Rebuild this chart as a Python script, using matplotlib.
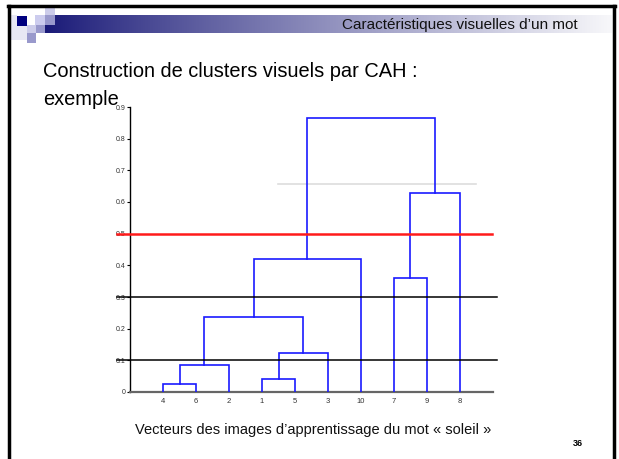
import numpy as np
import matplotlib
matplotlib.use('Agg')
from matplotlib import pyplot as plt
from matplotlib.patches import Rectangle

plt.rcParams['font.family'] = ['Liberation Sans', 'DejaVu Sans']

# leaf order along the x axis
leaf_labels = ['4', '6', '2', '1', '5', '3', '10', '7', '9', '8']
# merges: (left, right, height) -- names are leaves or earlier merges
merges = [
    ('4', '6', 0.026),
    ('m0', '2', 0.085),
    ('1', '5', 0.041),
    ('m2', '3', 0.122),
    ('m1', 'm3', 0.238),
    ('m4', '10', 0.42),
    ('7', '9', 0.359),
    ('m6', '8', 0.63),
    ('m5', 'm7', 0.865),
]
# cut levels
cut_black = [0.1, 0.3]
cut_red = 0.5
cut_grey = 0.656
yticks = [0, 0.1, 0.2, 0.3, 0.4, 0.5, 0.6, 0.7, 0.8, 0.9]

W, H = 619, 459
fig = plt.figure(figsize=(W / 100, H / 100), dpi=100)

# --- slide decoration ---
bg = fig.add_axes([0, 0, 1, 1])
bg.set_xlim(0, W)
bg.set_ylim(H, 0)
bg.axis('off')

# header gradient bar
grad = np.linspace(0, 1, 300)
c0 = np.array([0.10, 0.10, 0.47])
c1 = np.array([0.97, 0.97, 0.98])
g = np.clip(grad ** 0.9, 0, 1)
img = (c0[None, :] * (1 - g[:, None]) + c1[None, :] * g[:, None])[None, :, :]
bg.imshow(img, extent=(45, 612, 33, 15), aspect='auto', zorder=1)

# little squares top-left
squares = [
    (17, 16, 10, 10, '#00007f'),
    (45, 7, 10, 8, '#ccccea'),
    (45, 15, 10, 10, '#9999cc'),
    (35, 15, 10, 10, '#ccccee'),
    (27, 25, 9, 8, '#ccccea'),
    (36, 25, 9, 8, '#9999cc'),
    (27, 33, 9, 10, '#9999cc'),
    (10, 26, 17, 14, '#e8e8f4'),
    (10, 15, 7, 11, '#e8e8f4'),
]
for x, y, w, h, c in squares:
    bg.add_patch(Rectangle((x, y), w, h, facecolor=c, edgecolor='none', zorder=2))

# frame
bg.plot([8, 615], [6, 6], color='black', lw=2.5, zorder=3)
bg.plot([9, 9], [6, H], color='black', lw=2.5, zorder=3)
bg.plot([614, 614], [6, H], color='black', lw=2.5, zorder=3)

bg.text(578, 25, "Caractéristiques visuelles d\u2019un mot", ha='right', va='center',
        fontsize=11, color='#111111', zorder=4)
bg.text(43, 77, "Construction de clusters visuels par CAH :", ha='left', va='baseline',
        fontsize=14.4, color='black', zorder=4)
bg.text(43, 105, "exemple", ha='left', va='baseline', fontsize=14.4, color='black', zorder=4)
bg.text(313, 430, "Vecteurs des images d\u2019apprentissage du mot « soleil »", ha='center',
        va='center', fontsize=10.5, color='#111111', zorder=4)
bg.text(578, 444, "36", ha='center', va='center', fontsize=6.5, fontweight='bold', zorder=4)

# --- dendrogram axes ---
x0, x1, y0, y1 = 130, 493, 392, 107
ax = fig.add_axes([x0 / W, (H - y0) / H, (x1 - x0) / W, (y0 - y1) / H])
ax.patch.set_alpha(0)

pos = {lab: i + 1 for i, lab in enumerate(leaf_labels)}
hgt = {lab: 0.0 for lab in leaf_labels}
for k, (a, b, h) in enumerate(merges):
    xa, xb = pos[a], pos[b]
    ax.plot([xa, xa, xb, xb], [hgt[a], h, h, hgt[b]], color='#1a1aff', lw=1.2,
            solid_joinstyle='miter', zorder=3)
    name = 'm%d' % k
    pos[name] = (xa + xb) / 2
    hgt[name] = h

for yc in cut_black:
    ax.plot([-0.4, 11.12], [yc, yc], color='black', lw=1.1, clip_on=False, zorder=4)
ax.plot([-0.4, 10.97], [cut_red, cut_red], color='#ff1a1a', lw=1.8, clip_on=False, zorder=5)
ax.plot([4.47, 10.48], [cut_grey, cut_grey], color='#dddddd', lw=1.2, clip_on=False, zorder=2)

ax.set_xlim(0, 11)
ax.set_ylim(0, 0.9)
ax.set_xticks(range(1, 11))
ax.set_xticklabels(leaf_labels)
ax.set_yticks(yticks)
ax.set_yticklabels(['0'] + ['%.1f' % v for v in yticks[1:]])
ax.tick_params(axis='x', length=0, labelsize=5.5, labelcolor='#333333', pad=4)
ax.tick_params(axis='y', length=2, width=0.8, labelsize=5, labelcolor='#333333', pad=1)
for s in ['top', 'right']:
    ax.spines[s].set_visible(False)
ax.spines['left'].set_linewidth(1)
ax.spines['bottom'].set_color('#666666')
ax.spines['bottom'].set_linewidth(1.6)

fig.savefig('out.png', dpi=100)
